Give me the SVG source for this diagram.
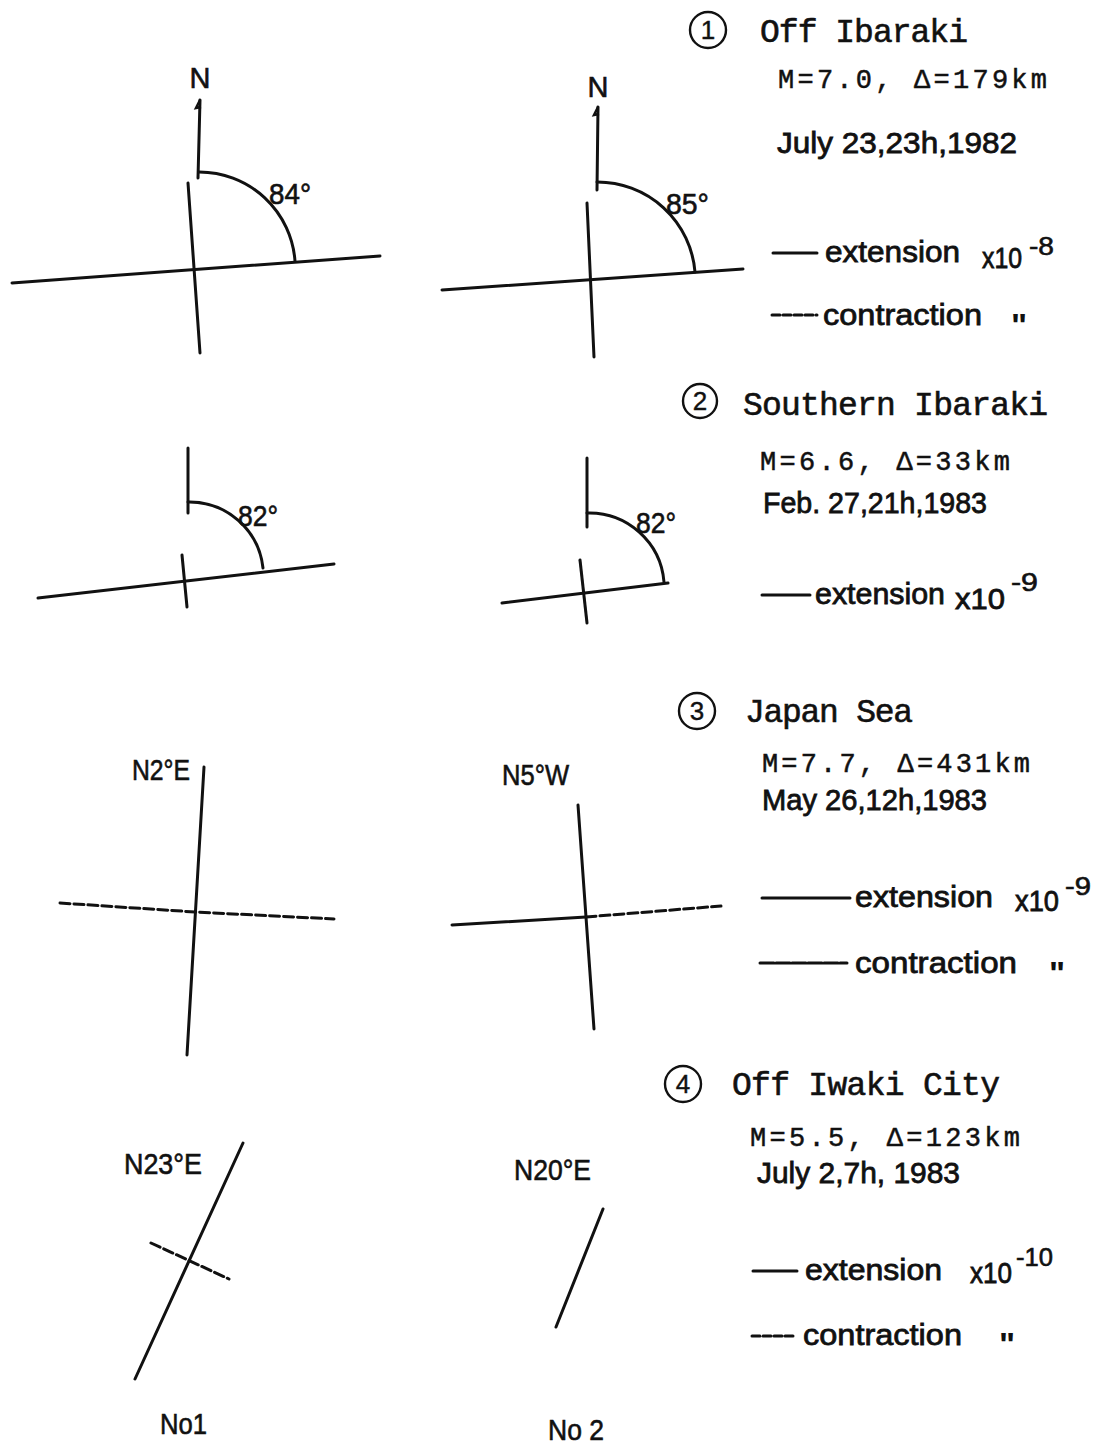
<svg xmlns="http://www.w3.org/2000/svg" width="1096" height="1445" viewBox="0 0 1096 1445">
<style>
.ln{stroke:#111;stroke-width:3;fill:none;stroke-linecap:round}
.th{stroke:#111;stroke-width:2.5;fill:none}
.dsh{stroke-dasharray:10 4}
.dsh2{stroke-dasharray:8 3}
.mono{font-family:"Liberation Mono","Courier New",monospace;font-size:33px;fill:#111;stroke:#111;stroke-width:0.6}
.mono2{font-family:"Liberation Mono","Courier New",monospace;font-size:27px;fill:#111;stroke:#111;stroke-width:0.5}
.sans{font-family:"Liberation Sans",Arial,sans-serif;font-size:30px;fill:#111;stroke:#111;stroke-width:0.8}
.lab{font-family:"Liberation Sans",Arial,sans-serif;font-size:29px;fill:#111;stroke:#111;stroke-width:0.6}
.sup{font-family:"Liberation Sans",Arial,sans-serif;font-size:25px;fill:#111;stroke:#111;stroke-width:0.6}
.dit{font-family:"Liberation Sans",Arial,sans-serif;font-size:34px;font-weight:bold;fill:#111}
.cnum{font-family:"Liberation Sans",Arial,sans-serif;font-size:26px;fill:#111;stroke:#111;stroke-width:0.4;text-anchor:middle}
.circ{fill:none;stroke:#111;stroke-width:2.4}
</style>
<rect width="1096" height="1445" fill="#fff"/>

<!-- Event 1 -->
<g id="e1-no1">
  <text class="lab" x="200" y="88" text-anchor="middle">N</text>
  <path class="ln" d="M200,100 L198,178"/>
  <path class="th" d="M200,100 L196,108 L201,107"/>
  <path class="ln" d="M188,183 L200,353"/>
  <path class="ln" d="M12,283 L380,256"/>
  <path class="ln" d="M199,172 A96,96 0 0 1 295,261"/>
  <text class="lab" x="269" y="204" textLength="42" lengthAdjust="spacingAndGlyphs">84°</text>
</g>
<g id="e1-no2">
  <text class="lab" x="598" y="97" text-anchor="middle">N</text>
  <path class="ln" d="M598,107 L597,190"/>
  <path class="th" d="M598,107 L594,115 L599,114"/>
  <path class="ln" d="M587,203 L594,357"/>
  <path class="ln" d="M442,290 L743,269"/>
  <path class="ln" d="M597,182 A98,98 0 0 1 695,272"/>
  <text class="lab" x="666" y="214" textLength="43" lengthAdjust="spacingAndGlyphs">85°</text>
</g>
<g id="e1-info">
  <circle class="circ" cx="708" cy="30" r="18"/>
  <text class="cnum" x="708" y="39">1</text>
  <text class="mono" x="760" y="42" textLength="208">Off Ibaraki</text>
  <text class="mono2" x="778" y="88" textLength="269">M=7.0, Δ=179km</text>
  <text class="sans" x="777" y="153" textLength="240" lengthAdjust="spacingAndGlyphs">July 23,23h,1982</text>
  <path class="ln" d="M773,253 L817,253"/>
  <text class="sans" x="825" y="262" textLength="135" lengthAdjust="spacingAndGlyphs">extension</text>
  <text class="sans" x="982" y="268" textLength="40" lengthAdjust="spacingAndGlyphs">x10</text>
  <text class="sup" x="1029" y="255" textLength="25" lengthAdjust="spacingAndGlyphs">-8</text>
  <path class="ln dsh2" d="M772,315 L817,315"/>
  <text class="sans" x="823" y="325" textLength="159" lengthAdjust="spacingAndGlyphs">contraction</text>
  <text class="dit" x="1011" y="337">"</text>
</g>

<!-- Event 2 -->
<g id="e2-no1">
  <path class="ln" d="M188,448 L188,513"/>
  <path class="ln" d="M182,555 L187,607"/>
  <path class="ln" d="M38,598 L334,564"/>
  <path class="ln" d="M188,502 A74,74 0 0 1 263,568"/>
  <text class="lab" x="238" y="526" textLength="40" lengthAdjust="spacingAndGlyphs">82°</text>
</g>
<g id="e2-no2">
  <path class="ln" d="M587,458 L587,527"/>
  <path class="ln" d="M580,560 L587,623"/>
  <path class="ln" d="M502,603 L668,583"/>
  <path class="ln" d="M587,513 A75,75 0 0 1 664,582"/>
  <text class="lab" x="636" y="533" textLength="40" lengthAdjust="spacingAndGlyphs">82°</text>
</g>
<g id="e2-info">
  <circle class="circ" cx="700" cy="401" r="17"/>
  <text class="cnum" x="700" y="410">2</text>
  <text class="mono" x="743" y="415" textLength="305">Southern Ibaraki</text>
  <text class="mono2" x="760" y="470" textLength="250">M=6.6, Δ=33km</text>
  <text class="sans" x="763" y="513" textLength="224" lengthAdjust="spacingAndGlyphs">Feb. 27,21h,1983</text>
  <path class="ln" d="M762,595 L810,595"/>
  <text class="sans" x="815" y="604" textLength="130" lengthAdjust="spacingAndGlyphs">extension</text>
  <text class="sans" x="955" y="609" textLength="50" lengthAdjust="spacingAndGlyphs">x10</text>
  <text class="sup" x="1011" y="591" textLength="27" lengthAdjust="spacingAndGlyphs">-9</text>
</g>

<!-- Event 3 -->
<g id="e3-no1">
  <text class="lab" x="132" y="780" textLength="58" lengthAdjust="spacingAndGlyphs">N2°E</text>
  <path class="ln" d="M204,767 L187,1055"/>
  <path class="ln dsh" d="M60,903 L195,912 L334,919"/>
</g>
<g id="e3-no2">
  <text class="lab" x="502" y="785" textLength="67" lengthAdjust="spacingAndGlyphs">N5°W</text>
  <path class="ln" d="M578,805 L594,1029"/>
  <path class="ln" d="M452,925 L586,917"/>
  <path class="ln dsh" d="M586,917 L721,906"/>
</g>
<g id="e3-info">
  <circle class="circ" cx="697" cy="711" r="18"/>
  <text class="cnum" x="697" y="720">3</text>
  <text class="mono" x="745" y="722" textLength="168">Japan Sea</text>
  <text class="mono2" x="762" y="772" textLength="268">M=7.7, Δ=431km</text>
  <text class="sans" x="762" y="810" textLength="225" lengthAdjust="spacingAndGlyphs">May 26,12h,1983</text>
  <path class="ln" d="M762,898 L850,898"/>
  <text class="sans" x="855" y="907" textLength="138" lengthAdjust="spacingAndGlyphs">extension</text>
  <text class="sans" x="1015" y="911" textLength="44" lengthAdjust="spacingAndGlyphs">x10</text>
  <text class="sup" x="1065" y="895" textLength="26" lengthAdjust="spacingAndGlyphs">-9</text>
  <path class="ln" stroke-dasharray="14 2" d="M760,963 L847,963"/>
  <text class="sans" x="855" y="973" textLength="162" lengthAdjust="spacingAndGlyphs">contraction</text>
  <text class="dit" x="1049" y="985">"</text>
</g>

<!-- Event 4 -->
<g id="e4-no1">
  <text class="lab" x="124" y="1174" textLength="78" lengthAdjust="spacingAndGlyphs">N23°E</text>
  <path class="ln" d="M243,1143 L135,1379"/>
  <path class="ln dsh" d="M151,1243 L229,1279"/>
  <text class="lab" x="160" y="1434" textLength="47" lengthAdjust="spacingAndGlyphs">No1</text>
</g>
<g id="e4-no2">
  <text class="lab" x="514" y="1180" textLength="77" lengthAdjust="spacingAndGlyphs">N20°E</text>
  <path class="ln" d="M603,1209 L556,1327"/>
  <text class="lab" x="548" y="1440" textLength="56" lengthAdjust="spacingAndGlyphs">No 2</text>
</g>
<g id="e4-info">
  <circle class="circ" cx="683" cy="1084" r="18"/>
  <text class="cnum" x="683" y="1093">4</text>
  <text class="mono" x="732" y="1095" textLength="268">Off Iwaki City</text>
  <text class="mono2" x="750" y="1146" textLength="270">M=5.5, Δ=123km</text>
  <text class="sans" x="757" y="1183" textLength="203" lengthAdjust="spacingAndGlyphs">July 2,7h, 1983</text>
  <path class="ln" d="M753,1271 L797,1271"/>
  <text class="sans" x="805" y="1280" textLength="137" lengthAdjust="spacingAndGlyphs">extension</text>
  <text class="sans" x="970" y="1283" textLength="42" lengthAdjust="spacingAndGlyphs">x10</text>
  <text class="sup" x="1016" y="1266" textLength="37" lengthAdjust="spacingAndGlyphs">-10</text>
  <path class="ln dsh2" d="M752,1336 L795,1336"/>
  <text class="sans" x="803" y="1345" textLength="159" lengthAdjust="spacingAndGlyphs">contraction</text>
  <text class="dit" x="999" y="1356">"</text>
</g>
</svg>
